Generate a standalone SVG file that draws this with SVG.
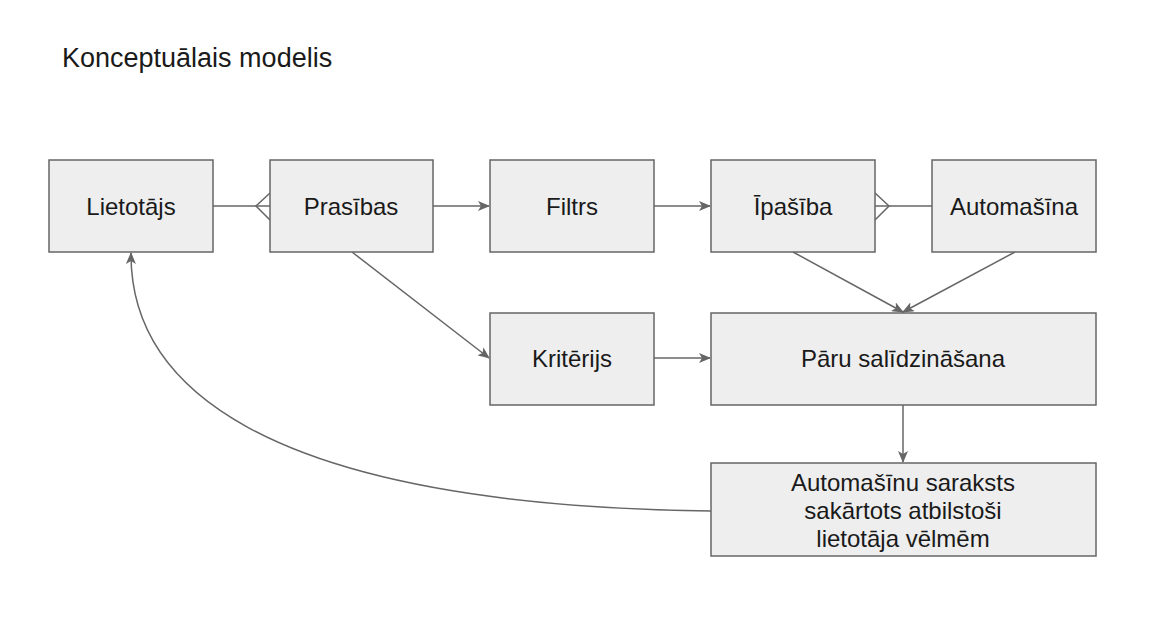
<svg xmlns="http://www.w3.org/2000/svg" width="1163" height="622" viewBox="0 0 1163 622">
<style>
.box{fill:#eeeeee;stroke:#666666;stroke-width:1.5}
.lbl{font-family:"Liberation Sans",Arial,sans-serif;font-size:24px;fill:#1a1a1a;text-anchor:middle}
.edge{fill:none;stroke:#666666;stroke-width:1.5}
</style>
<defs>
<marker id="arr" viewBox="0 0 12 10" refX="11" refY="5" markerWidth="12" markerHeight="10" markerUnits="userSpaceOnUse" orient="auto">
<path d="M0,0 L12,5 L0,10 L3,5 Z" fill="#666666"/>
</marker>
</defs>
<rect width="1163" height="622" fill="#ffffff"/>
<text x="62" y="67" style="font-family:'Liberation Sans',Arial,sans-serif;font-size:27px;fill:#1a1a1a">Konceptuālais modelis</text>
<g id="connectors">
<path class="edge" d="M213,206 H270"/>
<path class="edge" d="M270,193 L256,206 L270,220"/>
<path class="edge" d="M875,206 H932"/>
<path class="edge" d="M875,193 L889,206 L875,220"/>
<path class="edge" d="M433,206 H489" marker-end="url(#arr)"/>
<path class="edge" d="M654,206 H710" marker-end="url(#arr)"/>
<path class="edge" d="M352,252 L489,358" marker-end="url(#arr)"/>
<path class="edge" d="M654,358 H710" marker-end="url(#arr)"/>
<path class="edge" d="M793,252 L903,312" marker-end="url(#arr)"/>
<path class="edge" d="M1015,252 L903,312" marker-end="url(#arr)"/>
<path class="edge" d="M903,405 V462" marker-end="url(#arr)"/>
<path class="edge" d="M711,511 C250,505 130,380 131,253" marker-end="url(#arr)"/>
</g>
<g id="lietotajs"><rect class="box" x="49" y="160" width="164" height="92"/><text class="lbl" x="131" y="215">Lietotājs</text></g>
<g id="prasibas"><rect class="box" x="270" y="160" width="163" height="92"/><text class="lbl" x="351" y="215">Prasības</text></g>
<g id="filtrs"><rect class="box" x="490" y="160" width="164" height="92"/><text class="lbl" x="572" y="215">Filtrs</text></g>
<g id="ipasiba"><rect class="box" x="711" y="160" width="164" height="92"/><text class="lbl" x="793" y="215">Īpašība</text></g>
<g id="automasina"><rect class="box" x="932" y="160" width="164" height="92"/><text class="lbl" x="1014" y="215">Automašīna</text></g>
<g id="kriterijs"><rect class="box" x="490" y="313" width="164" height="92"/><text class="lbl" x="572" y="367">Kritērijs</text></g>
<g id="paru"><rect class="box" x="711" y="313" width="385" height="92"/><text class="lbl" x="903" y="367">Pāru salīdzināšana</text></g>
<g id="saraksts"><rect class="box" x="711" y="463" width="385" height="93"/><text class="lbl" x="903" y="491">Automašīnu saraksts</text><text class="lbl" x="903" y="519">sakārtots atbilstoši</text><text class="lbl" x="903" y="547">lietotāja vēlmēm</text></g>
</svg>
